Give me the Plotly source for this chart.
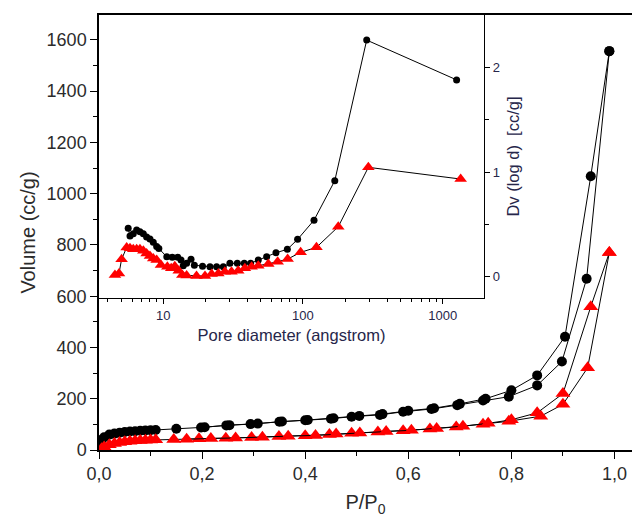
import plotly.graph_objects as go

# ---------------- main isotherm data ----------------
blk_ads_p = [0.002, 0.005, 0.01, 0.02, 0.03, 0.04, 0.05, 0.06, 0.07, 0.08, 0.09, 0.10, 0.11,
             0.15, 0.198, 0.247, 0.294, 0.35, 0.40, 0.45, 0.49, 0.545, 0.59, 0.645, 0.695,
             0.745, 0.795, 0.85, 0.898, 0.946, 0.99]
blk_ads_v = [20, 40, 50, 60, 64, 67, 70, 72, 73, 75, 76, 77, 78,
             83, 88, 96, 101, 110, 116, 122, 130, 137, 149, 160, 175,
             193, 208, 252, 345, 668, 1556]
blk_des_p = [0.99, 0.954, 0.904, 0.85, 0.80, 0.75, 0.70, 0.65, 0.60, 0.55, 0.505, 0.455,
             0.405, 0.355, 0.308, 0.253, 0.205]
blk_des_v = [1556, 1068, 442, 291, 233, 200, 180, 163, 153, 140, 133, 124,
             117, 111, 103, 97, 89]

red_ads_p = [0.005, 0.01, 0.02, 0.03, 0.04, 0.05, 0.06, 0.07, 0.08, 0.09, 0.10, 0.11,
             0.145, 0.194, 0.246, 0.296, 0.349, 0.40, 0.447, 0.49, 0.541, 0.59, 0.642,
             0.693, 0.745, 0.795, 0.857, 0.90, 0.948, 0.99]
red_ads_v = [5, 12, 20, 25, 29, 32, 34, 36, 37, 38, 39, 40,
             41, 44, 46, 49, 53, 56, 60, 65, 70, 75, 82,
             90, 100, 112, 132, 178, 321, 770]
red_des_p = [0.99, 0.954, 0.90, 0.85, 0.80, 0.755, 0.706, 0.655, 0.606, 0.557, 0.506,
             0.46, 0.42, 0.367, 0.317, 0.265, 0.217, 0.17]
red_des_v = [770, 559, 220, 145, 118, 104, 93, 84, 77, 72, 66,
             62, 57, 54, 50, 47, 45, 42]

# ---------------- inset pore size distribution ----------------
blk_d = [5.61, 5.78, 6.1, 6.45, 6.81, 7.2, 7.6, 8.03, 8.48, 8.97, 9.3, 10.6, 11.6, 12.7,
         13.4, 13.9, 14.7, 15.8, 16.7, 19.1, 21.6, 24.1, 26.9, 30.0, 33.9, 38.0, 42.2,
         47.9, 55, 64.1, 77.3, 91.6, 120, 169, 286, 1259]
blk_dv = [0.462, 0.389, 0.41, 0.446, 0.43, 0.41, 0.38, 0.36, 0.33, 0.29, 0.27, 0.19, 0.186,
          0.186, 0.16, 0.105, 0.13, 0.166, 0.11, 0.10, 0.096, 0.096, 0.096, 0.128, 0.128,
          0.128, 0.128, 0.159, 0.191, 0.229, 0.262, 0.357, 0.54, 0.917, 2.26, 1.88]

red_d = [4.51, 4.82, 5.03, 5.47, 5.78, 6.1, 6.45, 6.81, 7.2, 7.6, 8.03, 8.48, 8.97, 9.63,
         10.7, 11.4, 12.1, 12.9, 13.7, 14.7, 17.3, 19.9, 22.2, 24.8, 27.6, 30.8, 34.4,
         38.4, 42.9, 47.9, 56.5, 65.9, 77.7, 96.3, 125, 179, 294, 1346]
red_dv = [0.016, 0.03, 0.166, 0.28, 0.271, 0.262, 0.262, 0.262, 0.249, 0.223, 0.198, 0.175,
          0.159, 0.112, 0.096, 0.08, 0.10, 0.057, 0.016, 0.013, 0.006, 0.006, 0.026, 0.032,
          0.048, 0.048, 0.057, 0.08, 0.096, 0.105, 0.121, 0.143, 0.169, 0.233, 0.281,
          0.478, 1.045, 0.933]

x_major = [0.0, 0.2, 0.4, 0.6, 0.8, 1.0]
inset_x_major = [10, 100, 1000]

FONT = "Arial, Liberation Sans, sans-serif"
TXT = "#2b2b2b"
INS = "#26264a"

fig = go.Figure()

line_style = dict(color="black", width=1)

fig.add_trace(go.Scatter(x=blk_ads_p, y=blk_ads_v, mode="lines+markers", line=line_style,
                         marker=dict(symbol="circle", size=10, color="black")))
fig.add_trace(go.Scatter(x=blk_des_p, y=blk_des_v, mode="lines+markers", line=line_style,
                         marker=dict(symbol="circle", size=10, color="black")))
fig.add_trace(go.Scatter(x=red_ads_p, y=red_ads_v, mode="lines+markers", line=line_style,
                         marker=dict(symbol="triangle-up", size=13, color="red")))
fig.add_trace(go.Scatter(x=red_des_p, y=red_des_v, mode="lines+markers", line=line_style,
                         marker=dict(symbol="triangle-up", size=13, color="red")))

fig.add_trace(go.Scatter(x=blk_d, y=blk_dv, mode="lines+markers", line=line_style,
                         marker=dict(symbol="circle", size=7, color="black"),
                         xaxis="x2", yaxis="y2"))
fig.add_trace(go.Scatter(x=red_d, y=red_dv, mode="lines+markers", line=line_style,
                         marker=dict(symbol="triangle-up", size=11, color="red"),
                         xaxis="x2", yaxis="y2"))

minor_log = [m * 10 ** e for e in range(0, 4) for m in range(2, 10)]

fig.update_layout(
    width=632, height=517,
    margin=dict(l=99, r=0, t=15, b=67),
    paper_bgcolor="white", plot_bgcolor="white",
    showlegend=False,
    separators=", ",
    font=dict(family=FONT, color=TXT),
    xaxis=dict(
        domain=[0, 1], range=[0, 1.034],
        tickvals=x_major, tickformat=".1f",
        showline=True, linecolor="black", linewidth=1.5, mirror=True,
        ticks="outside", ticklen=7, tickwidth=1.2, tickcolor="black",
        minor=dict(ticks="outside", ticklen=4, tickwidth=1.2, tickcolor="black", dtick=0.1),
        showgrid=False, zeroline=False,
        tickfont=dict(size=18, color=TXT),
        title=dict(text="P/P<sub>0</sub>", font=dict(size=20, color=TXT), standoff=12),
    ),
    yaxis=dict(
        domain=[0, 1], range=[0, 1697],
        dtick=200,
        showline=True, linecolor="black", linewidth=1.5,
        ticks="outside", ticklen=7, tickwidth=1.2, tickcolor="black",
        minor=dict(ticks="outside", ticklen=4, tickwidth=1.2, tickcolor="black", dtick=100),
        showgrid=False, zeroline=False,
        tickfont=dict(size=18, color=TXT),
        title=dict(text="Volume (cc/g)", font=dict(size=20, color=TXT), standoff=6),
    ),
    xaxis2=dict(
        type="log", domain=[0, 0.7223], range=[0.54, 3.296], anchor="y2",
        tickvals=inset_x_major,
        showline=True, linecolor="black", linewidth=1.2,
        ticks="outside", ticklen=5, tickwidth=1, tickcolor="black",
        minor=dict(ticks="outside", ticklen=3, tickwidth=1, tickcolor="black",
                   tickmode="array", tickvals=minor_log),
        showgrid=False, zeroline=False,
        tickfont=dict(size=13, color=INS),
        title=dict(text="Pore diameter (angstrom)", font=dict(size=16.5, color=INS), standoff=7),
    ),
    yaxis2=dict(
        domain=[0.3494, 1.0], range=[-0.203, 2.4995], anchor="x2", side="right",
        tickvals=[0, 1, 2],
        showline=True, linecolor="black", linewidth=1.2,
        ticks="outside", ticklen=5, tickwidth=1, tickcolor="black",
        minor=dict(ticks="outside", ticklen=4, tickwidth=1, tickcolor="black",
                   tickmode="array", tickvals=[0.5, 1.5]),
        showgrid=False, zeroline=False,
        tickfont=dict(size=13, color=INS),
        title=dict(text="Dv (log d)  [cc/g]", font=dict(size=16.5, color=INS), standoff=8),
    ),
)

fig.write_html("out.html")
